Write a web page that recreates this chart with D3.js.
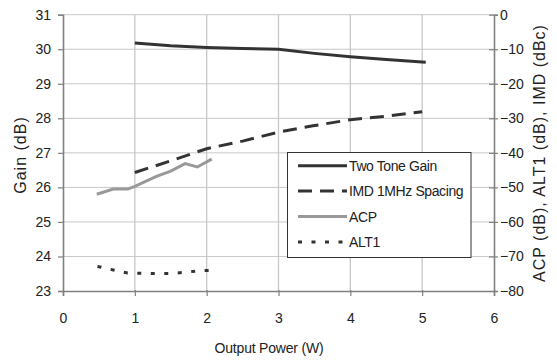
<!DOCTYPE html>
<html>
<head>
<meta charset="utf-8">
<script src="https://cdn.jsdelivr.net/npm/d3@7"></script>
<style>
  html, body { margin: 0; padding: 0; background: #fff; }
  svg { display: block; font-family: "Liberation Sans", Arial, sans-serif; }
</style>
</head>
<body>
<svg id="chart" width="557" height="360"></svg>
<script>
// ---- data ----
const xTicks = [0, 1, 2, 3, 4, 5, 6];
const gainTicks = [23, 24, 25, 26, 27, 28, 29, 30, 31];
const rightTicks = [-80, -70, -60, -50, -40, -30, -20, -10, 0];

const gainX = [1.0, 1.5, 2.0, 2.5, 3.0, 3.5, 4.0, 4.5, 5.05];
const gainY = [30.18, 30.1, 30.05, 30.02, 30.0, 29.88, 29.78, 29.7, 29.62];

const imdX = [1.0, 1.5, 2.0, 2.5, 3.0, 3.5, 4.0, 4.5, 5.0];
const imdY = [-45.7, -42.3, -38.8, -36.6, -34.0, -32.1, -30.4, -29.4, -28.1];

const acpX = [0.47, 0.7, 0.9, 1.0, 1.3, 1.5, 1.7, 1.87, 2.07];
const acpY = [-52.0, -50.5, -50.5, -49.7, -46.8, -45.3, -43.1, -44.1, -41.8];

const alt1X = [0.48, 0.7, 0.9, 1.1, 1.3, 1.5, 1.7, 1.9, 2.05];
const alt1Y = [-72.9, -73.9, -74.8, -74.9, -74.9, -74.9, -74.6, -74.1, -74.1];

const seriesNames = ["Two Tone Gain", "IMD 1MHz Spacing", "ACP", "ALT1"];

// ---- layout ----
const svg = d3.select("#chart");
const x = d3.scaleLinear().domain([0, 6]).range([63, 494]);
const yL = d3.scaleLinear().domain([23, 31]).range([291, 14.7]);
const yR = d3.scaleLinear().domain([-80, 0]).range([291, 14.7]);

const gridColor = "#c8c8c8";
const axisColor = "#808080";
const textColor = "#222";

// gridlines
svg.append("g").selectAll("line.h").data(gainTicks.slice(1)).join("line")
  .attr("x1", x(0)).attr("x2", x(6))
  .attr("y1", d => yL(d)).attr("y2", d => yL(d))
  .attr("stroke", gridColor).attr("stroke-width", 1);
svg.append("g").selectAll("line.v").data(xTicks.slice(1, -1)).join("line")
  .attr("x1", d => x(d)).attr("x2", d => x(d))
  .attr("y1", yL(31)).attr("y2", yL(23))
  .attr("stroke", gridColor).attr("stroke-width", 1.3);

// axes
const axL = svg.append("g").attr("transform", `translate(${x(0)},0)`)
  .call(d3.axisLeft(yL).tickValues(gainTicks).tickFormat(d3.format("d")).tickSize(5).tickPadding(7));
const axR = svg.append("g").attr("transform", `translate(${x(6)},0)`)
  .call(d3.axisRight(yR).tickValues(rightTicks).tickFormat(d3.format("d")).tickSize(4).tickPadding(2));
const axB = svg.append("g").attr("transform", `translate(0,${yL(23)})`)
  .call(d3.axisBottom(x).tickValues(xTicks).tickFormat(d3.format("d")).tickSize(5).tickPadding(17));

[axL, axR, axB].forEach(a => {
  a.select(".domain").attr("stroke", axisColor).attr("stroke-width", 1.6);
  a.selectAll(".tick line").attr("stroke", axisColor).attr("stroke-width", 1.2);
  a.selectAll(".tick text").attr("fill", textColor).attr("font-size", 14)
    .attr("font-family", "'Liberation Sans', Arial, sans-serif");
});
// right ticks cross the axis
axR.selectAll(".tick line").attr("x1", -5).attr("x2", 4);
axB.selectAll(".tick line").attr("y1", -1);

// series
const lineL = d3.line().x(d => x(d[0])).y(d => yL(d[1]));
const lineR = d3.line().x(d => x(d[0])).y(d => yR(d[1]));
const zip = (a, b) => a.map((v, i) => [v, b[i]]);

const styles = [
  { stroke: "#333", dash: null, w: 3 },
  { stroke: "#333", dash: "14,8", w: 3 },
  { stroke: "#999", dash: null, w: 3 },
  { stroke: "#333", dash: "4,9.5", w: 3 }
];

svg.append("path").datum(zip(gainX, gainY)).attr("d", lineL)
  .attr("fill", "none").attr("stroke", styles[0].stroke).attr("stroke-width", styles[0].w);
svg.append("path").datum(zip(imdX, imdY)).attr("d", lineR)
  .attr("fill", "none").attr("stroke", styles[1].stroke).attr("stroke-width", styles[1].w)
  .attr("stroke-dasharray", styles[1].dash);
svg.append("path").datum(zip(acpX, acpY)).attr("d", lineR)
  .attr("fill", "none").attr("stroke", styles[2].stroke).attr("stroke-width", styles[2].w);
svg.append("path").datum(zip(alt1X, alt1Y)).attr("d", lineR)
  .attr("fill", "none").attr("stroke", styles[3].stroke).attr("stroke-width", styles[3].w)
  .attr("stroke-dasharray", styles[3].dash);

// legend
const lg = svg.append("g");
lg.append("rect").attr("x", 287.5).attr("y", 152.5).attr("width", 183.5).attr("height", 105)
  .attr("fill", "#fff").attr("stroke", "#333").attr("stroke-width", 1);
seriesNames.forEach((name, i) => {
  const yy = 165.7 + i * 25.4;
  lg.append("line").attr("x1", 298).attr("x2", 347).attr("y1", yy).attr("y2", yy)
    .attr("stroke", styles[i].stroke).attr("stroke-width", styles[i].w)
    .attr("stroke-dasharray", styles[i].dash);
  lg.append("text").attr("x", 349).attr("y", yy + 5).attr("font-size", 14)
    .attr("letter-spacing", -0.4)
    .attr("fill", textColor).text(name);
});

// axis titles
svg.append("text").attr("transform", `translate(26,155) rotate(-90)`)
  .attr("text-anchor", "middle").attr("font-size", 16).attr("fill", textColor)
  .attr("letter-spacing", 1).text("Gain (dB)");
svg.append("text").attr("transform", `translate(545,153) rotate(-90)`)
  .attr("text-anchor", "middle").attr("font-size", 16).attr("fill", textColor)
  .attr("letter-spacing", 1).text("ACP (dB), ALT1 (dB), IMD (dBc)");
svg.append("text").attr("x", 269).attr("y", 353)
  .attr("text-anchor", "middle").attr("font-size", 14).attr("fill", textColor)
  .attr("letter-spacing", -0.2)
  .text("Output Power (W)");
</script>
</body>
</html>
